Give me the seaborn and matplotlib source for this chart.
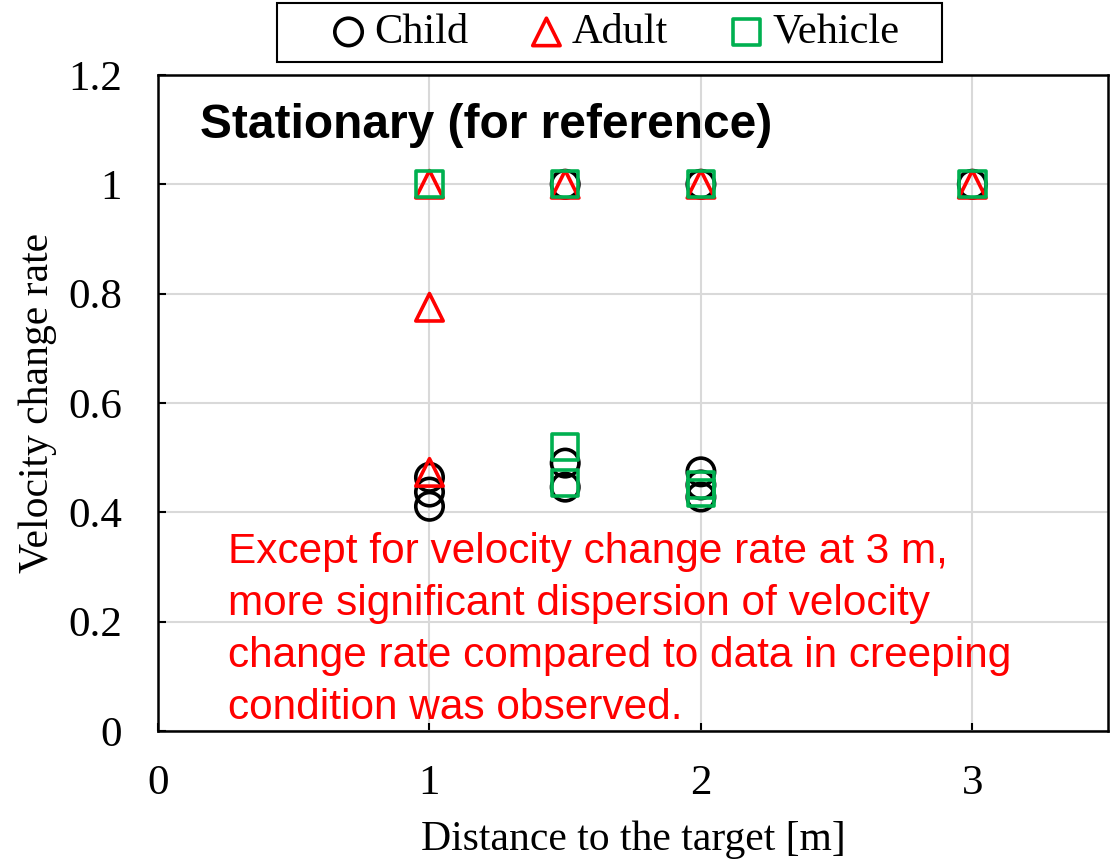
import matplotlib
matplotlib.use("Agg")
import matplotlib.pyplot as plt
from matplotlib.patches import Rectangle
import pandas as pd
import seaborn as sns

# values
child_x = [1, 1, 1, 1.5, 1.5, 1.5, 2, 2, 2, 2, 3]
child_y = [0.464, 0.437, 0.411, 1.0, 0.49, 0.446, 1.0, 0.474, 0.45, 0.428, 1.0]
adult_x = [1, 1, 1, 1.5, 2, 3]
adult_y = [1.0, 0.775, 0.473, 1.0, 1.0, 1.0]
vehicle_x = [1, 1.5, 1.5, 1.5, 2, 2, 2, 3]
vehicle_y = [1.0, 1.0, 0.519, 0.453, 1.0, 0.45, 0.435, 1.0]

x_ticks = [0, 1, 2, 3]
y_ticks = [0, 0.2, 0.4, 0.6, 0.8, 1.0, 1.2]
y_tick_labels = ["0", "0.2", "0.4", "0.6", "0.8", "1", "1.2"]

note = ("Except for velocity change rate at 3 m,\n"
        "more significant dispersion of velocity\n"
        "change rate compared to data in creeping\n"
        "condition was observed.")

sns.set_style("white")
plt.rcParams["font.family"] = ["Liberation Serif", "DejaVu Serif"]
plt.rcParams.update({"text.color": "black", "axes.labelcolor": "black",
                     "xtick.color": "black", "ytick.color": "black"})

df = pd.concat([
    pd.DataFrame({"x": child_x, "y": child_y, "group": "Child"}),
    pd.DataFrame({"x": adult_x, "y": adult_y, "group": "Adult"}),
    pd.DataFrame({"x": vehicle_x, "y": vehicle_y, "group": "Vehicle"}),
])

styles = {
    "Child": ("o", "black", 390),
    "Adult": ("^", "#ff0000", 390),
    "Vehicle": ("s", "#00b050", 360),
}

fig = plt.figure(figsize=(11.17, 8.61), dpi=100)
ax = fig.add_axes([0.1415, 0.151, 0.8505, 0.762])

for name, (mk, col, size) in styles.items():
    sub = df[df["group"] == name]
    sns.scatterplot(data=sub, x="x", y="y", ax=ax, marker=mk, s=size,
                    facecolor="none", edgecolor=col, linewidth=2.6,
                    label=name, zorder=3)

ax.set_xlim(0, 3.5)
ax.set_ylim(0, 1.2)
ax.set_xticks(x_ticks)
ax.set_yticks(y_ticks)
ax.set_yticklabels(y_tick_labels)
ax.grid(True, color="#d9d9d9", linewidth=1.5)
ax.set_axisbelow(True)
for sp in ax.spines.values():
    sp.set_color("black")
    sp.set_linewidth(1.8)
ax.tick_params(direction="in", length=6, width=1.5, labelsize=31,
               left=True, bottom=True)
ax.tick_params(axis="y", pad=26)
ax.tick_params(axis="x", pad=24)
ax.set_xlabel("Distance to the target [m]", fontsize=30, labelpad=13)
ax.set_ylabel("Velocity change rate", fontsize=30, labelpad=8)

ax.text(0.044, 0.904, "Stationary (for reference)", transform=ax.transAxes,
        fontsize=34.5, fontweight="bold", family=["Liberation Sans"],
        va="baseline", ha="left")
ax.text(0.0737, 0.303, note, transform=ax.transAxes, fontsize=30.5,
        color="#ff0000", family=["Liberation Sans"], va="top", ha="left",
        linespacing=1.38)

# legend above the plot, with the wide box of the original
ax.legend_.remove()
handles, labels = ax.get_legend_handles_labels()
fig.legend(handles, labels, loc="center", ncol=3,
           bbox_to_anchor=(0.549, 0.962), fontsize=30.5, frameon=False,
           handletextpad=0.1, columnspacing=1.35, handlelength=1.0,
           borderaxespad=0)
fig.patches.append(Rectangle((0.248, 0.928), 0.595, 0.0685,
                             transform=fig.transFigure, fill=False,
                             edgecolor="black", linewidth=1.5))

fig.savefig("out.png", dpi=100)
